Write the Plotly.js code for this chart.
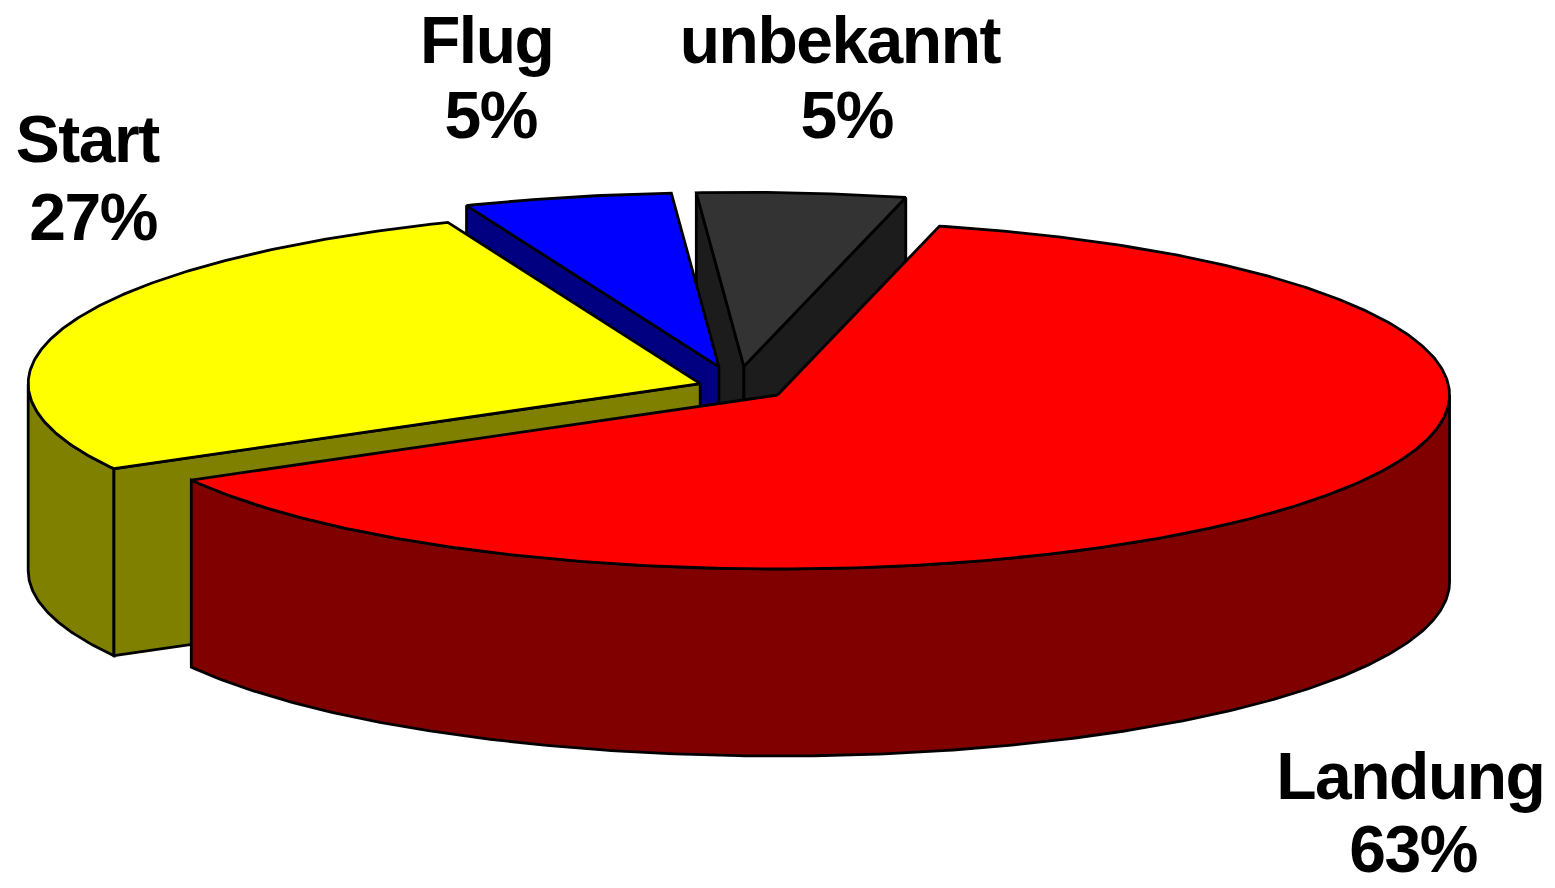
<!DOCTYPE html>
<html>
<head>
<meta charset="utf-8">
<script src="https://cdn.plot.ly/plotly-3.0.1.min.js"></script>
<style>
  html, body { margin: 0; padding: 0; background: #ffffff; }
  #chart { width: 1555px; height: 888px; }
  #chart .annotation-text { letter-spacing: -1.5px; }
</style>
</head>
<body>
<div id="chart"></div>
<script>
// ---- data ----
const labels = ['Landung', 'Start', 'Flug', 'unbekannt'];
const values = [63, 27, 5, 5];

// ---- style / geometry settings ----
const topColors  = ['#FF0000', '#FFFF00', '#0000FF', '#333333'];
const sideColors = ['#800000', '#808000', '#000080', '#1C1C1C'];
const explode    = [51, 39, 80, 80];          // per-slice pull-out
const center     = {x: 737, y: 387};          // pie centre in plot units
const rx = 672, ry = 174, depth = 187;        // ellipse radii and thickness
const startAngle = -76.06;                    // degrees, screen (y down), clockwise
const labelPos = {
  'Landung':   {name: [1410, 776], pct: [1413, 849]},
  'Start':     {name: [87, 139],   pct: [93, 217]},
  'Flug':      {name: [486, 40],   pct: [490, 115]},
  'unbekannt': {name: [840, 40],   pct: [846, 115]}
};

const rad = d => d * Math.PI / 180;
const total = values.reduce((a, b) => a + b, 0);

// build slice geometry from the values
let acc = startAngle;
const slices = values.map((v, i) => {
  const a0 = acc, a1 = acc + v / total * 360;
  acc = a1;
  const m = rad((a0 + a1) / 2);
  const apex = {
    x: center.x + explode[i] * Math.cos(m),
    y: center.y + explode[i] * Math.sin(m) * ry / rx
  };
  return {i, a0, a1, apex};
});

function rimPts(apex, from, to, dy) {
  const pts = [];
  const n = Math.max(2, Math.ceil(Math.abs(to - from) * 2));
  for (let k = 0; k <= n; k++) {
    const t = rad(from + (to - from) * k / n);
    pts.push([apex.x + rx * Math.cos(t), apex.y + ry * Math.sin(t) + dy]);
  }
  return pts;
}

function poly(pts, fill) {
  const xs = pts.map(p => p[0]), ys = pts.map(p => p[1]);
  xs.push(pts[0][0]); ys.push(pts[0][1]);
  return {
    type: 'scatter', mode: 'lines', x: xs, y: ys,
    fill: 'toself', fillcolor: fill,
    line: {color: '#000000', width: 2.8, shape: 'linear'},
    hoverinfo: 'skip', showlegend: false
  };
}

const traces = [];
// paint back to front
const order = slices.slice().sort((p, q) => p.apex.y - q.apex.y);
order.forEach(s => {
  const A = s.apex, side = sideColors[s.i];
  // outer wall: front half (sin > 0) of the arc
  [[0, 180], [360, 540], [-360, -180]].forEach(([lo, hi]) => {
    const f = Math.max(s.a0, lo), t = Math.min(s.a1, hi);
    if (t > f) {
      const top = rimPts(A, f, t, 0);
      const bot = rimPts(A, f, t, depth).reverse();
      traces.push(poly(top.concat(bot), side));
    }
  });
  // radial cut faces, drawn when they face the viewer
  const faces = [
    {ang: s.a0, normal: s.a0 - 90},
    {ang: s.a1, normal: s.a1 + 90}
  ];
  faces.forEach(f => {
    if (Math.sin(rad(f.normal)) > 0) {
      const t = rad(f.ang);
      const r = [A.x + rx * Math.cos(t), A.y + ry * Math.sin(t)];
      traces.push(poly([[A.x, A.y], r, [r[0], r[1] + depth], [A.x, A.y + depth]], side));
    }
  });
  // top surface
  traces.push(poly([[A.x, A.y]].concat(rimPts(A, s.a0, s.a1, 0)), topColors[s.i]));
});

const font = {family: '"Liberation Sans", Arial, sans-serif', size: 66, color: '#000000', weight: 700};
const annotations = [];
labels.forEach((lab, i) => {
  const pos = labelPos[lab];
  const pct = Math.round(values[i] / total * 100) + '%';
  annotations.push({x: pos.name[0], y: pos.name[1], xref: 'x', yref: 'y', text: lab,
    showarrow: false, xanchor: 'center', yanchor: 'middle', font: font});
  annotations.push({x: pos.pct[0], y: pos.pct[1], xref: 'x', yref: 'y', text: pct,
    showarrow: false, xanchor: 'center', yanchor: 'middle', font: font});
});

const layout = {
  width: 1555, height: 888,
  margin: {l: 0, r: 0, t: 0, b: 0},
  paper_bgcolor: '#ffffff', plot_bgcolor: '#ffffff',
  xaxis: {range: [0, 1555], visible: false, fixedrange: true},
  yaxis: {range: [888, 0], visible: false, fixedrange: true},
  showlegend: false,
  annotations: annotations
};

Plotly.newPlot('chart', traces, layout, {displayModeBar: false, staticPlot: true});
</script>
</body>
</html>
